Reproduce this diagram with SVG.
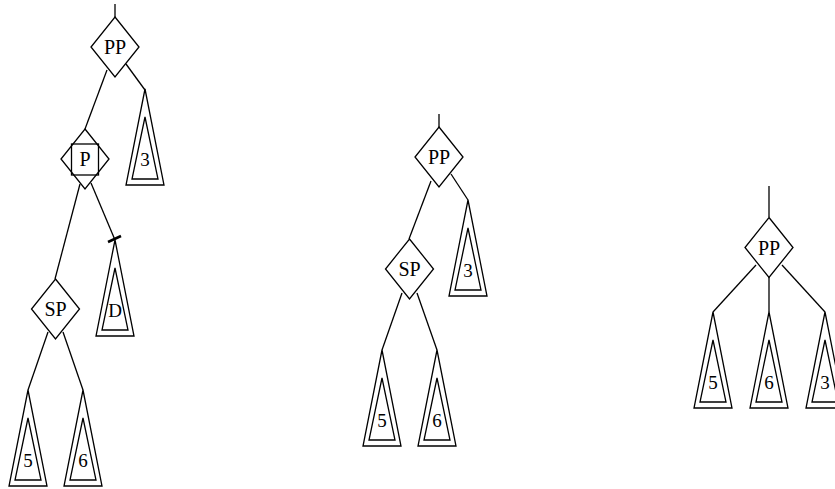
<svg xmlns="http://www.w3.org/2000/svg" width="835" height="489" viewBox="0 0 835 489">
<style>
.s{fill:none;stroke:#000;stroke-width:1.3}
.t{font-family:"Liberation Serif","Times New Roman",serif;font-size:20px;text-anchor:middle;fill:#000}
.d{font-family:"Liberation Serif","Times New Roman",serif;font-size:19px;text-anchor:middle;fill:#000}
</style>
<defs>
<g id="tri">
<path class="s" d="M0,0 L19,96 L-19,96 Z"/>
<path class="s" d="M0,28 L13,90 L-13,90 Z"/>
</g>
<path id="dia" class="s" d="M0,-30 L24,0 L0,30 L-24,0 Z"/>
</defs>
<g id="connectors">
<line class="s" x1="115" y1="4" x2="115" y2="17"/>
<line class="s" x1="107" y1="70" x2="85" y2="129"/>
<line class="s" x1="126" y1="64" x2="145" y2="90"/>
<line class="s" x1="80" y1="184" x2="55" y2="279"/>
<line class="s" x1="91" y1="183" x2="115" y2="240"/>
<line x1="108" y1="242" x2="121" y2="236" stroke="#000" stroke-width="2.5"/>
<line class="s" x1="48" y1="332" x2="28" y2="390"/>
<line class="s" x1="63" y1="332" x2="83" y2="390"/>
<line class="s" x1="439" y1="114" x2="439" y2="127"/>
<line class="s" x1="431" y1="181" x2="409" y2="239"/>
<line class="s" x1="451" y1="174" x2="468" y2="200"/>
<line class="s" x1="402" y1="293" x2="382" y2="350"/>
<line class="s" x1="417" y1="293" x2="437" y2="350"/>
<line class="s" x1="769" y1="186" x2="769" y2="217"/>
<line class="s" x1="756" y1="265" x2="713" y2="312"/>
<line class="s" x1="769" y1="277" x2="769" y2="312"/>
<line class="s" x1="782" y1="265" x2="825" y2="312"/>
</g>
<g id="t1-pp"><use href="#dia" x="115" y="47"/><text class="t" x="115" y="54">PP</text></g>
<g id="t1-3"><use href="#tri" x="145" y="89"/><text class="d" x="145" y="166">3</text></g>
<g id="t1-p"><use href="#dia" x="85" y="159"/><rect class="s" x="71.5" y="144" width="27" height="31"/><text class="t" x="85" y="166">P</text></g>
<g id="t1-d"><use href="#tri" x="115" y="240"/><text class="d" x="115" y="317">D</text></g>
<g id="t1-sp"><use href="#dia" x="55.5" y="309"/><text class="t" x="55.5" y="316">SP</text></g>
<g id="t1-5"><use href="#tri" x="28" y="390"/><text class="d" x="28" y="467">5</text></g>
<g id="t1-6"><use href="#tri" x="83" y="390"/><text class="d" x="83" y="467">6</text></g>
<g id="t2-pp"><use href="#dia" x="439" y="157"/><text class="t" x="439" y="164">PP</text></g>
<g id="t2-3"><use href="#tri" x="468" y="200"/><text class="d" x="468" y="277">3</text></g>
<g id="t2-sp"><use href="#dia" x="409.5" y="269"/><text class="t" x="409.5" y="276">SP</text></g>
<g id="t2-5"><use href="#tri" x="382" y="350"/><text class="d" x="382" y="427">5</text></g>
<g id="t2-6"><use href="#tri" x="437" y="350"/><text class="d" x="437" y="427">6</text></g>
<g id="t3-pp"><use href="#dia" x="769" y="247.5"/><text class="t" x="769" y="254.5">PP</text></g>
<g id="t3-5"><use href="#tri" x="713" y="312"/><text class="d" x="713" y="389">5</text></g>
<g id="t3-6"><use href="#tri" x="769" y="312"/><text class="d" x="769" y="389">6</text></g>
<g id="t3-3"><use href="#tri" x="825" y="312"/><text class="d" x="825" y="389">3</text></g>
</svg>
